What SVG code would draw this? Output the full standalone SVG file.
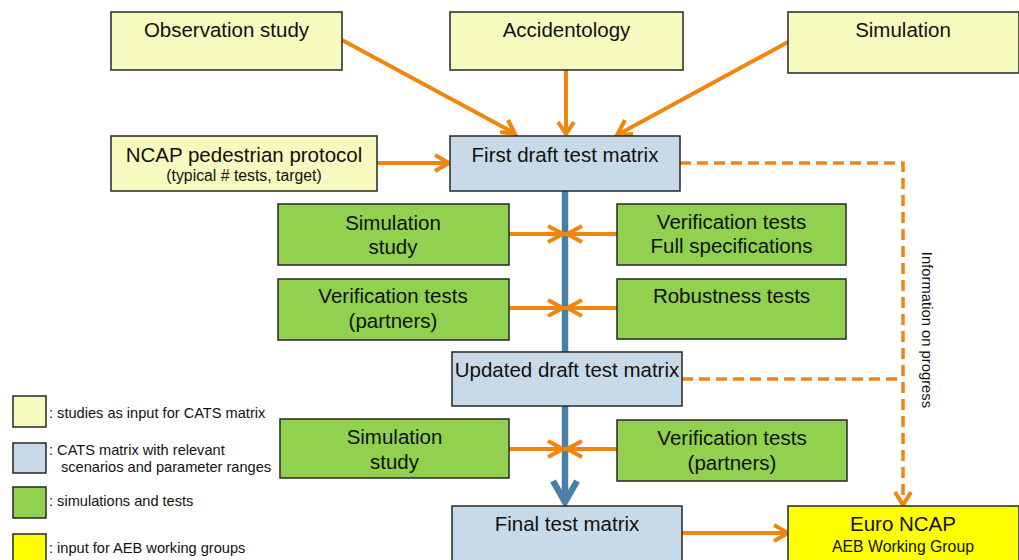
<svg xmlns="http://www.w3.org/2000/svg" width="1019" height="560" viewBox="0 0 1019 560">
<style>
text{font-family:"Liberation Sans",Arial,sans-serif;fill:#111}
.box{stroke:#262626;stroke-width:1.5}
.ly{fill:#F7FABE}
.bl{fill:#C8DAE7}
.gr{fill:#92D050}
.ye{fill:#FFFF00}
.t{font-size:20.5px;text-anchor:middle}
.s{font-size:15.8px;text-anchor:middle}
.lg{font-size:14.6px}
.o{stroke:#F0850F;stroke-width:4;fill:none;stroke-linecap:butt}
.d{stroke:#F0850F;stroke-width:3.5;fill:none;stroke-dasharray:11 6}
.ah{stroke:#F0850F;stroke-width:4;fill:none;stroke-linejoin:miter}
</style>
<rect width="1019" height="560" fill="#fff"/>
<g id="connectors">
  <line x1="565" y1="191" x2="565" y2="352" stroke="#4A7FA6" stroke-width="6.5"/>
  <line x1="565" y1="406" x2="565" y2="500" stroke="#4A7FA6" stroke-width="6.5"/>
  <polyline points="553,481 565,502 577,481" stroke="#4A7FA6" stroke-width="6.5" fill="none"/>
  <line class="o" x1="342" y1="40" x2="514" y2="133"/>
  <polyline class="ah" points="500,132 515,134 508,120"/>
  <line class="o" x1="566" y1="70" x2="566" y2="132"/>
  <polyline class="ah" points="558,122 566,134 574,122"/>
  <line class="o" x1="788" y1="42" x2="619" y2="134"/>
  <polyline class="ah" points="625,120 617,135 633,134"/>
  <line class="o" x1="377" y1="163" x2="448" y2="163"/>
  <polyline class="ah" points="435,155 449,163 435,171"/>
  <line class="o" x1="509" y1="234" x2="617" y2="234"/>
  <polyline class="ah" points="548,226 563,234 548,242"/>
  <polyline class="ah" points="582,226 567,234 582,242"/>
  <line class="o" x1="509" y1="308" x2="617" y2="308"/>
  <polyline class="ah" points="548,300 563,308 548,316"/>
  <polyline class="ah" points="582,300 567,308 582,316"/>
  <line class="o" x1="509" y1="449" x2="617" y2="449"/>
  <polyline class="ah" points="548,441 563,449 548,457"/>
  <polyline class="ah" points="582,441 567,449 582,457"/>
  <line class="o" x1="682" y1="533" x2="787" y2="533"/>
  <polyline class="ah" points="774,525 788,533 774,541"/>
  <polyline class="d" points="680,163 903,163 903,502"/>
  <line class="d" x1="682" y1="379" x2="903" y2="379"/>
  <polyline class="ah" points="895,492 903,505 911,492"/>
  <text transform="translate(922,330) rotate(90)" text-anchor="middle" style="font-size:14.8px">Information on progress</text>
</g>
<g id="observation"><rect class="box ly" x="111" y="12" width="231" height="58"/><text class="t" x="226.5" y="37">Observation study</text></g>
<g id="accidentology"><rect class="box ly" x="450" y="12" width="233" height="58"/><text class="t" x="566.5" y="37">Accidentology</text></g>
<g id="simulation"><rect class="box ly" x="788" y="12" width="231" height="61"/><text class="t" x="903" y="37">Simulation</text></g>
<g id="ncap"><rect class="box ly" x="111" y="136" width="266" height="55"/><text class="t" x="244" y="162" style="font-size:20.5px">NCAP pedestrian protocol</text><text class="s" x="244" y="181">(typical # tests, target)</text></g>
<g id="first-draft"><rect class="box bl" x="450" y="136" width="230" height="55"/><text class="t" x="565" y="162">First draft test matrix</text></g>
<g id="sim-study-1"><rect class="box gr" x="278" y="204" width="231" height="61"/><text class="t" x="393" y="230">Simulation</text><text class="t" x="393" y="254">study</text></g>
<g id="verif-full"><rect class="box gr" x="617" y="204" width="229" height="61"/><text class="t" x="731.5" y="229">Verification tests</text><text class="t" x="731.5" y="253">Full specifications</text></g>
<g id="verif-partners-1"><rect class="box gr" x="278" y="279" width="231" height="61"/><text class="t" x="393" y="303">Verification tests</text><text class="t" x="393" y="328">(partners)</text></g>
<g id="robustness"><rect class="box gr" x="617" y="279" width="229" height="60"/><text class="t" x="731.5" y="303">Robustness tests</text></g>
<g id="updated-draft"><rect class="box bl" x="452" y="352" width="230" height="54"/><text class="t" x="567" y="377">Updated draft test matrix</text></g>
<g id="sim-study-2"><rect class="box gr" x="280" y="419" width="229" height="59"/><text class="t" x="394.5" y="444">Simulation</text><text class="t" x="394.5" y="469">study</text></g>
<g id="verif-partners-2"><rect class="box gr" x="617" y="420" width="230" height="61"/><text class="t" x="732" y="445">Verification tests</text><text class="t" x="732" y="470">(partners)</text></g>
<g id="final"><rect class="box bl" x="452" y="506" width="230" height="60"/><text class="t" x="567" y="531">Final test matrix</text></g>
<g id="euro-ncap"><rect class="box ye" x="788" y="506" width="231" height="60"/><text class="t" x="903" y="531">Euro NCAP</text><text class="s" x="903" y="552">AEB Working Group</text></g>
<g id="legend">
  <rect class="box ly" x="13" y="396" width="33" height="31"/>
  <text class="lg" x="49" y="418">: studies as input for CATS matrix</text>
  <rect class="box bl" x="13" y="443" width="33" height="30"/>
  <text class="lg" x="49" y="455">: CATS matrix with relevant</text>
  <text class="lg" x="61" y="472">scenarios and parameter ranges</text>
  <rect class="box gr" x="13" y="487" width="33" height="31"/>
  <text class="lg" x="49" y="506">: simulations and tests</text>
  <rect class="box ye" x="13" y="534" width="33" height="30"/>
  <text class="lg" x="49" y="553">: input for AEB working groups</text>
</g>
</svg>
